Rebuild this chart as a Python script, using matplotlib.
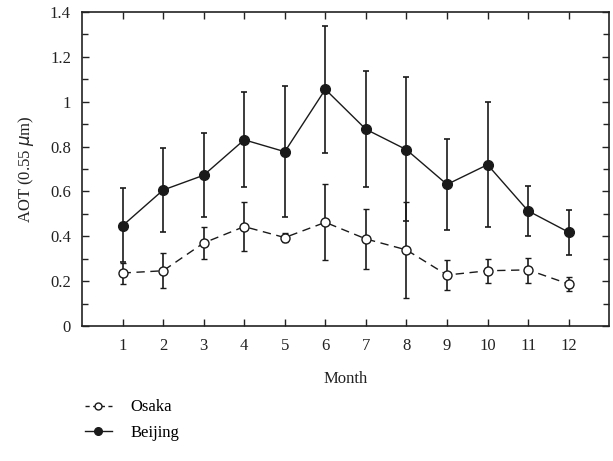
import numpy as np
import matplotlib
matplotlib.use('Agg')
import matplotlib.pyplot as plt
from matplotlib.ticker import MultipleLocator
from matplotlib.lines import Line2D

plt.rcParams['font.family'] = ['Liberation Serif', 'DejaVu Serif']

months = list(range(1, 13))

# Beijing monthly AOT, error bar top and bottom
beijing = [0.447, 0.606, 0.672, 0.83, 0.777, 1.055, 0.877, 0.786, 0.631, 0.719, 0.513, 0.418]
beijing_top = [0.614, 0.795, 0.86, 1.043, 1.07, 1.337, 1.135, 1.11, 0.832, 1.0, 0.623, 0.516]
beijing_bot = [0.285, 0.42, 0.485, 0.62, 0.485, 0.77, 0.618, 0.467, 0.43, 0.443, 0.403, 0.318]

# Osaka monthly AOT, error bar top and bottom
osaka = [0.236, 0.246, 0.37, 0.443, 0.394, 0.462, 0.388, 0.339, 0.227, 0.246, 0.25, 0.187]
osaka_top = [0.28, 0.323, 0.44, 0.552, 0.415, 0.634, 0.522, 0.552, 0.292, 0.297, 0.303, 0.216]
osaka_bot = [0.188, 0.167, 0.298, 0.334, 0.374, 0.294, 0.255, 0.124, 0.16, 0.191, 0.191, 0.157]

yticks = [0, 0.2, 0.4, 0.6, 0.8, 1.0, 1.2, 1.4]
ytick_labels = ['0', '0.2', '0.4', '0.6', '0.8', '1', '1.2', '1.4']

ink = '#1a1a1a'

fig = plt.figure(figsize=(6.13, 4.61), dpi=100)
ax = fig.add_axes([0.1338, 0.293, 0.86, 0.681])

b_err = [np.array(beijing) - np.array(beijing_bot), np.array(beijing_top) - np.array(beijing)]
o_err = [np.array(osaka) - np.array(osaka_bot), np.array(osaka_top) - np.array(osaka)]

ax.errorbar(months, osaka, yerr=o_err, fmt='o', ls=(0, (6, 4)), color=ink, lw=1,
            mfc='white', mec=ink, ms=6.5, mew=1, capsize=2, elinewidth=1.2,
            capthick=1.2, zorder=3)
ax.errorbar(months, beijing, yerr=b_err, fmt='o', ls='-', color=ink, lw=1,
            mfc=ink, mec=ink, ms=7, capsize=2, elinewidth=1.2,
            capthick=1.2, zorder=3)

ax.set_xlim(0, 13)
ax.set_ylim(0, 1.4)
ax.set_xticks(months)
ax.set_yticks(yticks, ytick_labels)
ax.yaxis.set_minor_locator(MultipleLocator(0.1))
ax.tick_params(which='both', direction='in', top=True, right=True, labelsize=12,
               colors='#222222', width=1)
ax.tick_params(which='major', length=5)
ax.tick_params(which='minor', length=4)
ax.tick_params(axis='x', pad=9)
ax.tick_params(axis='y', pad=8)
for s in ax.spines.values():
    s.set_linewidth(1.2)
    s.set_color('#222222')

ax.set_xlabel('Month', fontsize=12, labelpad=12, color='#222222')
ax.set_ylabel(r'AOT (0.55 $\mu$m)', fontsize=12, labelpad=10, color='#222222')

handles = [
    Line2D([], [], color=ink, lw=1, ls=(0, (3, 2.5)), marker='o', ms=5, mfc='white', mec=ink),
    Line2D([], [], color=ink, lw=1, ls='-', marker='o', ms=5.5, mfc=ink, mec=ink),
]
fig.legend(handles, ['Osaka', 'Beijing'], loc='upper left', bbox_to_anchor=(0.128, 0.148),
           frameon=False, fontsize=12, handlelength=1.6, handletextpad=1.1,
           labelspacing=0.55, borderaxespad=0)

fig.savefig('out.png', dpi=100)
